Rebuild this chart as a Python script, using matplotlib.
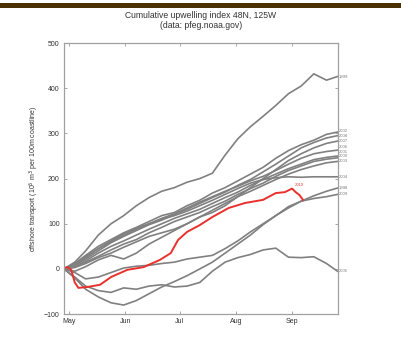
import matplotlib
matplotlib.use("Agg")
import matplotlib.pyplot as plt
from matplotlib.patches import Rectangle

plt.rcParams['font.family'] = ['Liberation Sans', 'DejaVu Sans']

# day of year for the sampled points
days = [118, 124, 130, 137, 144, 151, 158, 165, 172, 179, 186, 193,
        200, 207, 214, 221, 228, 235, 242, 249, 256, 263, 269]

# cumulative index per past year (gray lines)
years = ['1999', '2002', '2008', '2006', '2001', '2003', '2004', '2007',
         '2000', '1998', '2009', '2005']
series = [
    [0, 15, 40, 75, 100, 118, 140, 158, 172, 180, 192, 200, 212, 252, 288, 315, 338, 362, 388, 405, 432, 418, 426],
    [0, 12, 30, 50, 65, 80, 92, 105, 118, 125, 140, 152, 168, 180, 195, 210, 225, 245, 262, 275, 285, 298, 303],
    [0, 8, 22, 40, 58, 72, 85, 98, 108, 120, 132, 145, 158, 170, 185, 198, 215, 232, 250, 268, 280, 290, 295],
    [0, 10, 25, 45, 62, 78, 90, 100, 112, 122, 135, 148, 160, 172, 183, 195, 205, 218, 232, 245, 255, 260, 263],
    [0, 5, 18, 35, 50, 62, 75, 88, 100, 112, 122, 132, 145, 158, 170, 185, 198, 210, 222, 232, 242, 247, 250],
    [0, 3, 12, 25, 35, 48, 60, 72, 80, 88, 100, 115, 130, 145, 160, 172, 185, 198, 210, 220, 228, 235, 238],
    [0, 10, 28, 45, 60, 75, 88, 100, 110, 118, 128, 140, 152, 165, 178, 190, 198, 202, 204, 203, 204, 204, 204],
    [0, -5, 5, 20, 30, 22, 35, 55, 70, 85, 100, 115, 125, 140, 160, 180, 200, 220, 240, 255, 268, 278, 283],
    [0, 6, 15, 28, 42, 55, 65, 80, 92, 105, 115, 125, 138, 150, 165, 178, 190, 205, 218, 228, 238, 243, 246],
    [0, -20, -45, -62, -75, -80, -70, -55, -40, -28, -15, 0, 15, 35, 55, 75, 98, 118, 138, 150, 162, 172, 179],
    [0, -8, -22, -18, -8, 2, 6, 8, 12, 15, 22, 26, 30, 45, 62, 82, 100, 118, 135, 150, 156, 160, 165],
    [0, -18, -38, -48, -52, -42, -45, -38, -35, -40, -38, -30, -5, 15, 25, 32, 42, 46, 26, 25, 27, 12, -5],
]

# current year (red)
red_year = '2010'
red_days = [118, 120, 122, 124, 126, 131, 138, 144, 153, 162, 171, 177, 181,
            186, 193, 200, 209, 218, 228, 235, 240, 244, 246, 248, 250]
red_vals = [2, 4, -2, -30, -42, -40, -35, -18, -2, 4, 20, 35, 64,
            82, 97, 115, 135, 146, 153, 168, 170, 178, 170, 164, 153]

month_days = [121, 152, 182, 213, 244]
month_names = ['May', 'Jun', 'Jul', 'Aug', 'Sep']

fig = plt.figure(figsize=(4.02, 3.37), dpi=100)
fig.patch.set_facecolor('white')

# dark bar across the top of the page
fig.patches.append(Rectangle((0, 1 - 7.5 / 337), 1, 4.5 / 337, transform=fig.transFigure,
                             facecolor='#4a3200', edgecolor='none'))

ax = fig.add_axes([0.159, 0.068, 0.682, 0.804])

for vals in series:
    ax.plot(days, vals, color='#808080', lw=1.2, solid_joinstyle='round')

# year labels at the right end, nudged apart so they don't sit on each other
order = sorted(range(len(series)), key=lambda i: series[i][-1])
label_y = {}
last = -1e9
for i in order:
    y = max(series[i][-1], last + 11)
    label_y[i] = y
    last = y
for i, yr in enumerate(years):
    ax.text(270, label_y[i], yr, fontsize=3, color='#777777', va='center', ha='left', clip_on=False)

ax.plot(red_days, red_vals, color='#e8302c', lw=1.4)
ax.text(red_days[-4] + 1.5, red_vals[-4] + 8, red_year, fontsize=3, color='#e8302c', va='center')

ax.set_xlim(118, 269.4)
ax.set_ylim(-100, 500)
ax.set_xticks(month_days)
ax.set_xticklabels(month_names)
ax.set_yticks(range(-100, 501, 100))
ax.tick_params(direction='in', length=2.5, width=0.6, colors='#999999', labelcolor='#333333',
               labelsize=5, top=True, right=True, pad=3)
for sp in ax.spines.values():
    sp.set_color('#a0a0a0')
    sp.set_linewidth(0.9)

ax.set_ylabel('offshore transport (10$^6$ m$^3$ per 100m coastline)', fontsize=5, color='#333333', labelpad=2)

fig.text(0.5, 1 - 15 / 337, 'Cumulative upwelling index 48N, 125W', ha='center', va='center',
         fontsize=6.2, color='#333333')
fig.text(0.5, 1 - 26 / 337, '(data: pfeg.noaa.gov)', ha='center', va='center',
         fontsize=6.2, color='#333333')

fig.savefig('out.png', dpi=100)
